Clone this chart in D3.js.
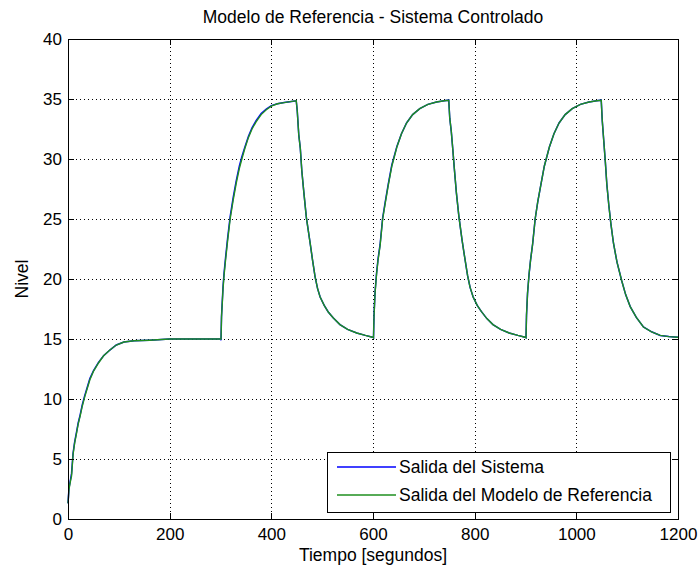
<!DOCTYPE html>
<html>
<head>
<meta charset="utf-8">
<script src="https://cdn.jsdelivr.net/npm/d3@7"></script>
<style>
  html, body { margin: 0; padding: 0; background: #ffffff; }
  svg { display: block; }
  text { font-family: "Liberation Sans", Arial, Helvetica, sans-serif; fill: #000; }
</style>
</head>
<body>
<svg id="chart" width="698" height="574"></svg>
<script>
// ---------------- data ----------------
const chartTitle = "Modelo de Referencia - Sistema Controlado";
const xLabel = "Tiempo [segundos]";
const yLabel = "Nivel";
const seriesNames = ["Salida del Sistema", "Salida del Modelo de Referencia"];
const xTicks = [0, 200, 400, 600, 800, 1000, 1200];
const yTicks = [0, 5, 10, 15, 20, 25, 30, 35, 40];

const timeSec = [
  0, 2, 5, 7, 10, 13, 17, 20, 24, 28, 33, 38, 43, 50, 60, 70, 83, 95, 110, 130, 160, 200, 250, 300,
  301, 302, 305, 307, 310, 314, 319, 325, 331, 337, 342, 348, 355, 362, 370, 380, 390, 400, 412, 425, 440, 449,
  451, 454, 457, 460, 464, 469, 476, 481, 486, 491, 496, 504, 512, 522, 535, 550, 568, 585, 599,
  601, 602, 604, 607, 610, 614, 619, 624, 630, 637, 647, 656, 666, 678, 692, 708, 725, 740, 749,
  751, 754, 757, 760, 764, 769, 775, 780, 786, 791, 797, 805, 813, 824, 836, 851, 868, 885, 899,
  901, 902, 904, 907, 910, 914, 919, 924, 930, 937, 947, 956, 966, 978, 992, 1008, 1025, 1040, 1049,
  1051, 1054, 1057, 1060, 1064, 1068, 1073, 1080, 1089, 1097, 1106, 1118, 1132, 1148, 1165, 1182, 1200
];
const refLevel = [
  1.3, 2.5, 3.2, 3.6, 5.4, 6.3, 7.2, 7.9, 8.6, 9.4, 10.2, 10.9, 11.6, 12.3, 13.0, 13.6, 14.1, 14.5, 14.75, 14.85, 14.9, 15.0, 15.0, 15.0,
  15.0, 16.8, 19.2, 20.3, 21.6, 23.2, 25.0, 26.6, 28.0, 29.2, 30.0, 30.9, 31.8, 32.5, 33.1, 33.7, 34.1, 34.4, 34.6, 34.7, 34.8, 34.85,
  34.0, 32.0, 30.9, 29.0, 27.2, 25.1, 23.1, 21.6, 20.2, 19.2, 18.5, 17.8, 17.25, 16.75, 16.2, 15.8, 15.5, 15.3, 15.15,
  15.1, 16.9, 18.8, 20.4, 21.6, 22.8, 25.0, 26.3, 27.8, 29.4, 31.0, 32.1, 33.0, 33.7, 34.2, 34.55, 34.75, 34.85, 34.9,
  33.4, 32.3, 30.8, 29.2, 27.2, 25.2, 23.3, 21.9, 20.3, 19.3, 18.5, 17.8, 17.3, 16.7, 16.2, 15.8, 15.5, 15.3, 15.15,
  15.1, 17.0, 18.8, 20.4, 21.6, 22.9, 25.0, 26.4, 27.8, 29.4, 31.0, 32.1, 33.0, 33.7, 34.2, 34.55, 34.75, 34.85, 34.9,
  33.2, 31.5, 29.8, 27.9, 26.1, 24.6, 23.0, 21.4, 19.9, 18.7, 17.7, 16.8, 16.0, 15.6, 15.3, 15.2, 15.15
];
// system output: nearly identical to the reference model, small deviations visible as blue slivers
const sysLevel = [
  1.3, 2.6, 3.3, 3.8, 5.5, 6.4, 7.3, 8.0, 8.7, 9.5, 10.3, 11.0, 11.7, 12.35, 13.05, 13.6, 14.1, 14.5, 14.75, 14.85, 14.9, 15.0, 15.0, 15.0,
  14.9, 16.9, 19.4, 20.5, 21.8, 23.4, 25.2, 26.8, 28.2, 29.4, 30.2, 31.0, 31.9, 32.6, 33.2, 33.8, 34.15, 34.45, 34.6, 34.7, 34.8, 34.85,
  34.0, 32.0, 30.9, 29.0, 27.2, 25.1, 23.1, 21.6, 20.2, 19.2, 18.5, 17.8, 17.25, 16.75, 16.2, 15.8, 15.5, 15.3, 15.15,
  15.1, 17.0, 18.9, 20.5, 21.7, 22.9, 25.1, 26.4, 27.9, 29.5, 31.05, 32.1, 33.0, 33.7, 34.2, 34.55, 34.75, 34.85, 34.9,
  33.4, 32.3, 30.8, 29.2, 27.2, 25.2, 23.3, 21.9, 20.3, 19.3, 18.5, 17.8, 17.3, 16.7, 16.2, 15.8, 15.5, 15.3, 15.15,
  15.1, 17.0, 18.8, 20.4, 21.6, 22.9, 25.0, 26.4, 27.8, 29.4, 31.0, 32.1, 33.0, 33.7, 34.2, 34.55, 34.75, 34.85, 34.9,
  33.2, 31.5, 29.8, 27.9, 26.1, 24.6, 23.0, 21.4, 19.9, 18.7, 17.7, 16.8, 16.0, 15.6, 15.3, 15.2, 15.15
];

// ---------------- layout ----------------
const W = 698, H = 574;
const margin = { left: 68, right: 20, top: 39, bottom: 55 };
const pw = W - margin.left - margin.right;   // 610
const ph = H - margin.top - margin.bottom;   // 480
const FS_TICK = 17;
const FS = 17.5;

const svg = d3.select("#chart");
svg.append("rect").attr("width", W).attr("height", H).attr("fill", "#fff");

const x = d3.scaleLinear().domain([0, 1200]).range([0, pw]);
const y = d3.scaleLinear().domain([0, 40]).range([ph, 0]);

const g = svg.append("g").attr("transform", `translate(${margin.left},${margin.top})`);

// grid (dotted)
const grid = g.append("g").attr("stroke", "#000").attr("stroke-width", 1)
  .attr("stroke-dasharray", "1,3").attr("shape-rendering", "crispEdges");
xTicks.slice(1, -1).forEach(v => {
  grid.append("line").attr("x1", Math.round(x(v)) + 0.5).attr("x2", Math.round(x(v)) + 0.5)
    .attr("y1", 0).attr("y2", ph);
});
yTicks.slice(1, -1).forEach(v => {
  grid.append("line").attr("y1", Math.round(y(v)) + 0.5).attr("y2", Math.round(y(v)) + 0.5)
    .attr("x1", 0).attr("x2", pw);
});

// lines
const pts = timeSec.map((t, i) => ({ t, r: refLevel[i], s: sysLevel[i] }));
g.append("path").datum(pts)
  .attr("fill", "none").attr("stroke", "#0000ff").attr("stroke-width", 1.5)
  .attr("d", d3.line().x(d => x(d.t)).y(d => y(d.s)));
g.append("path").datum(pts)
  .attr("fill", "none").attr("stroke", "#1f8f1f").attr("stroke-width", 1.4)
  .attr("d", d3.line().x(d => x(d.t)).y(d => y(d.r)));

// axes (ticks inside, box)
const tickLen = 6;
const fmt = d3.format("d");
const axB = g.append("g").attr("transform", `translate(0,${ph})`)
  .call(d3.axisBottom(x).tickValues(xTicks).tickFormat(fmt).tickSizeInner(-tickLen).tickSizeOuter(0).tickPadding(9));
const axL = g.append("g")
  .call(d3.axisLeft(y).tickValues(yTicks).tickFormat(fmt).tickSizeInner(-tickLen).tickSizeOuter(0).tickPadding(6));
const axT = g.append("g")
  .call(d3.axisTop(x).tickValues(xTicks).tickSizeInner(-tickLen).tickSizeOuter(0).tickFormat(""));
const axR = g.append("g").attr("transform", `translate(${pw},0)`)
  .call(d3.axisRight(y).tickValues(yTicks).tickSizeInner(-tickLen).tickSizeOuter(0).tickFormat(""));
[axB, axL, axT, axR].forEach(a => {
  a.attr("font-family", null).attr("font-size", null);
  a.selectAll("path").attr("stroke", "#000").attr("stroke-width", 1).attr("shape-rendering", "crispEdges");
  a.selectAll("line").attr("stroke", "#000").attr("stroke-width", 1).attr("shape-rendering", "crispEdges");
  a.selectAll("text").attr("font-size", FS_TICK);
});
g.append("rect").attr("x", 0).attr("y", 0).attr("width", pw).attr("height", ph)
  .attr("fill", "none").attr("stroke", "#000").attr("stroke-width", 1).attr("shape-rendering", "crispEdges");

// title & labels
svg.append("text").attr("x", margin.left + pw / 2).attr("y", 23)
  .attr("text-anchor", "middle").attr("font-size", FS).text(chartTitle);
svg.append("text").attr("x", margin.left + pw / 2).attr("y", 561)
  .attr("text-anchor", "middle").attr("font-size", FS).text(xLabel);
svg.append("text").attr("transform", `translate(28,${margin.top + ph / 2}) rotate(-90)`)
  .attr("text-anchor", "middle").attr("font-size", FS).text(yLabel);

// legend
const lg = svg.append("g");
const lx = 327, ly = 452, lw = 343, lh = 60;
lg.append("rect").attr("x", lx + 0.5).attr("y", ly + 0.5).attr("width", lw).attr("height", lh)
  .attr("fill", "#fff").attr("stroke", "#000").attr("stroke-width", 1).attr("shape-rendering", "crispEdges");
const legColors = ["#0000ff", "#1f8f1f"];
seriesNames.forEach((name, i) => {
  const yy = ly + 15 + i * 28;
  lg.append("line").attr("x1", lx + 10).attr("x2", lx + 69).attr("y1", yy).attr("y2", yy)
    .attr("stroke", legColors[i]).attr("stroke-width", 1.4);
  lg.append("text").attr("x", lx + 72).attr("y", yy).attr("dy", "0.35em")
    .attr("font-size", FS).text(name);
});
</script>
</body>
</html>
